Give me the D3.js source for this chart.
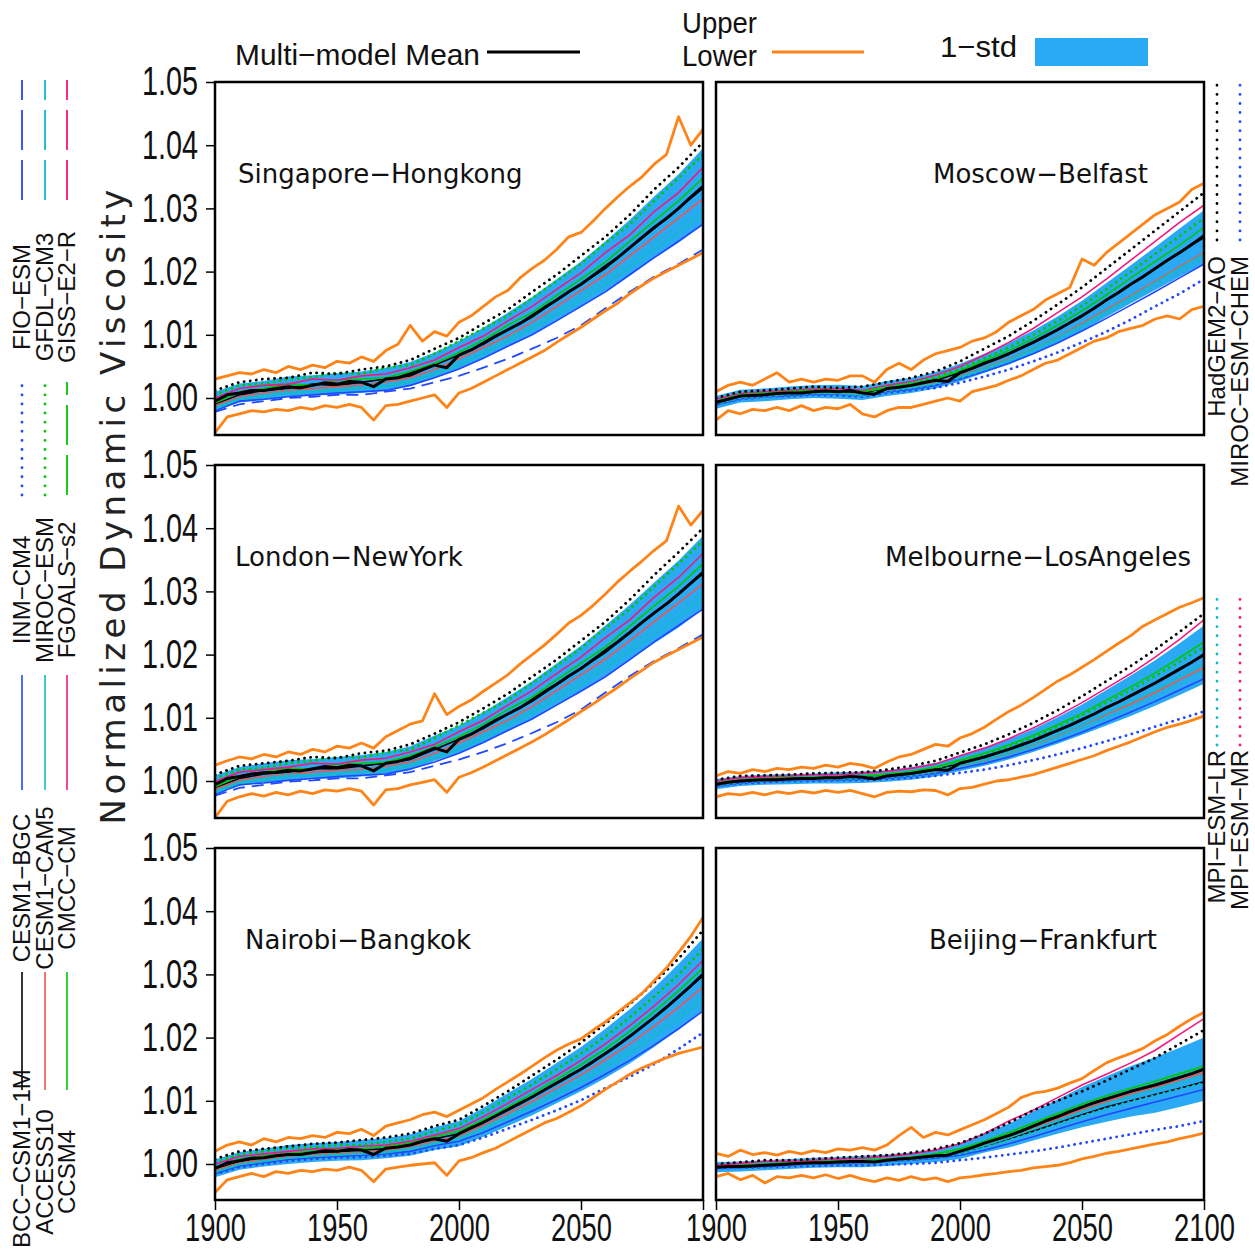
<!DOCTYPE html>
<html>
<head>
<meta charset="utf-8">
<script src="https://cdn.jsdelivr.net/npm/d3@7"></script>
<style>
  body { margin: 0; background: #fff; }
  svg { display: block; }
</style>
</head>
<body>
<div id="chart"></div>
<script>
/* Normalized dynamic viscosity, 6 city pairs, CMIP5 models 1900-2100 */

const YEARS_5 = [1900,1905,1910,1915,1920,1925,1930,1935,1940,1945,1950,1955,1960,1965,1970,1975,1980,1985,1990,1995,
                 2000,2005,2010,2015,2020,2025,2030,2035,2040,2045,2050,2055,2060,2065,2070,2075,2080,2085,2090,2095,2100];
const YEARS_10 = [1900,1910,1920,1930,1940,1950,1960,1970,1980,1990,2000,2010,2020,2030,2040,2050,2060,2070,2080,2090,2100];
const Y_TICKS = [1.00, 1.01, 1.02, 1.03, 1.04, 1.05];
const X_TICKS = [1900, 1950, 2000, 2050, 2100];

// model legend: id, label, colour, line type
const MODELS = [
  ["bcc",    "BCC−CSM1−1M",    "#000000", "solid"],
  ["access", "ACCESS10",       "#f2554c", "solid"],
  ["ccsm4",  "CCSM4",          "#00c800", "solid"],
  ["bgc",    "CESM1−BGC",      "#2048ff", "solid"],
  ["cam5",   "CESM1−CAM5",     "#10bcc4", "solid"],
  ["cmcc",   "CMCC−CM",        "#f5167f", "solid"],
  ["inm",    "INM−CM4",        "#2048ff", "dot"],
  ["miroc",  "MIROC−ESM",      "#00c800", "dot"],
  ["fgoals", "FGOALS−s2",      "#00c800", "dash"],
  ["fio",    "FIO−ESM",        "#2048ff", "dash"],
  ["gfdl",   "GFDL−CM3",       "#10bcc4", "dash"],
  ["giss",   "GISS−E2−R",      "#f5167f", "dash"],
  ["hadgem", "HadGEM2−AO",     "#000000", "dot"],
  ["chem",   "MIROC−ESM−CHEM", "#2048ff", "dot"],
  ["mpilr",  "MPI−ESM−LR",     "#10bcc4", "dot"],
  ["mpimr",  "MPI−ESM−MR",     "#f5167f", "dot"]
];

// ---- Singapore-Hongkong ----
const SH_MEAN  = [0.9995,1.0005,1.0008,1.0012,1.0012, 1.0015,1.0018,1.0016,1.0020,1.0024, 1.0022,1.0026,1.0025,1.0018,1.0030,
                  1.0032,1.0038,1.0045,1.0052,1.0048, 1.0068,1.0076,1.0087,1.0098,1.0108, 1.0118,1.0130,1.0143,1.0155,1.0168,
                  1.0180,1.0194,1.0208,1.0222,1.0238, 1.0254,1.0270,1.0284,1.0300,1.0318, 1.0335];
const SH_UPPER = [1.0030,1.0035,1.0040,1.0038,1.0045, 1.0040,1.0050,1.0045,1.0052,1.0048, 1.0058,1.0055,1.0065,1.0058,1.0075,
                  1.0085,1.0115,1.0090,1.0105,1.0098, 1.0120,1.0130,1.0145,1.0160,1.0170, 1.0190,1.0205,1.0218,1.0235,1.0255,
                  1.0262,1.0280,1.0300,1.0318,1.0335, 1.0350,1.0370,1.0385,1.0445,1.0400, 1.0425];
const SH_LOWER = [0.9945,0.9970,0.9975,0.9980,0.9978, 0.9982,0.9980,0.9985,0.9982,0.9988, 0.9985,0.9990,0.9985,0.9965,0.9988,
                  0.9990,0.9995,1.0000,1.0005,0.9985, 1.0008,1.0015,1.0025,1.0035,1.0045, 1.0055,1.0065,1.0075,1.0088,1.0100,
                  1.0112,1.0125,1.0138,1.0150,1.0165, 1.0178,1.0190,1.0200,1.0210,1.0220, 1.0230];
const SH_STD   = [0.0015,0.0015,0.0015,0.0016,0.0016,0.0017,0.0017,0.0018,0.0019,0.0020,0.0022,
                  0.0024,0.0027,0.0030,0.0033,0.0036,0.0040,0.0044,0.0049,0.0054,0.0060];
const SH_MODELS = {
  hadgem: [1.0012,1.0025,1.0030,1.0032,1.0040,1.0038,1.0045,1.0050,1.0060,1.0078,1.0095,1.0118,1.0140,1.0168,1.0195,1.0225,1.0255,1.0290,1.0330,1.0365,1.0405],
  miroc:  [1.0005,1.0020,1.0022,1.0030,1.0033,1.0040,1.0038,1.0048,1.0052,1.0070,1.0090,1.0110,1.0130,1.0158,1.0185,1.0212,1.0245,1.0275,1.0312,1.0348,1.0385],
  cmcc:   [1.0000,1.0015,1.0020,1.0022,1.0030,1.0028,1.0035,1.0038,1.0048,1.0060,1.0080,1.0098,1.0122,1.0145,1.0172,1.0198,1.0230,1.0258,1.0295,1.0325,1.0365],
  ccsm4:  [0.9992,1.0010,1.0015,1.0022,1.0020,1.0028,1.0030,1.0032,1.0042,1.0055,1.0072,1.0092,1.0115,1.0135,1.0162,1.0188,1.0215,1.0248,1.0280,1.0312,1.0348],
  bcc:    [0.9990,1.0005,1.0012,1.0015,1.0022,1.0020,1.0025,1.0030,1.0035,1.0052,1.0068,1.0085,1.0108,1.0128,1.0155,1.0180,1.0205,1.0238,1.0268,1.0300,1.0332],
  access: [0.9988,1.0002,1.0008,1.0012,1.0015,1.0018,1.0020,1.0025,1.0032,1.0045,1.0062,1.0080,1.0098,1.0120,1.0145,1.0170,1.0195,1.0225,1.0255,1.0285,1.0315],
  mpilr:  [0.9985,1.0000,1.0005,1.0012,1.0010,1.0015,1.0018,1.0022,1.0028,1.0042,1.0058,1.0075,1.0095,1.0115,1.0138,1.0162,1.0188,1.0215,1.0245,1.0272,1.0300],
  cam5:   [0.9982,0.9998,1.0002,1.0008,1.0010,1.0012,1.0015,1.0018,1.0025,1.0038,1.0052,1.0070,1.0090,1.0110,1.0132,1.0155,1.0180,1.0208,1.0235,1.0262,1.0290],
  bgc:    [0.9980,0.9995,0.9998,1.0002,1.0005,1.0008,1.0010,1.0012,1.0020,1.0032,1.0046,1.0063,1.0082,1.0100,1.0122,1.0145,1.0168,1.0195,1.0222,1.0248,1.0275],
  fio:    [0.9978,0.9990,0.9995,1.0000,1.0002,1.0005,1.0005,1.0010,1.0015,1.0025,1.0035,1.0048,1.0062,1.0078,1.0095,1.0115,1.0142,1.0168,1.0192,1.0212,1.0235]
};

// ---- Moscow-Belfast ----
const MB_MEAN  = [0.9993,0.9998,1.0003,1.0004,1.0005, 1.0007,1.0008,1.0008,1.0010,1.0011, 1.0010,1.0012,1.0008,1.0006,1.0015,
                  1.0017,1.0020,1.0024,1.0028,1.0026, 1.0040,1.0047,1.0055,1.0062,1.0070, 1.0079,1.0088,1.0098,1.0108,1.0119,
                  1.0130,1.0142,1.0155,1.0167,1.0180, 1.0192,1.0205,1.0218,1.0230,1.0243, 1.0255];
const MB_UPPER = [1.0010,1.0020,1.0025,1.0020,1.0030, 1.0040,1.0025,1.0030,1.0025,1.0030, 1.0028,1.0035,1.0035,1.0025,1.0045,
                  1.0055,1.0045,1.0060,1.0070,1.0075, 1.0080,1.0090,1.0095,1.0105,1.0120, 1.0130,1.0140,1.0155,1.0165,1.0175,
                  1.0220,1.0210,1.0230,1.0245,1.0260, 1.0275,1.0290,1.0300,1.0310,1.0330, 1.0340];
const MB_LOWER = [0.9965,0.9980,0.9975,0.9982,0.9980, 0.9985,0.9980,0.9988,0.9980,0.9985, 0.9983,0.9990,0.9975,0.9970,0.9980,
                  0.9985,0.9985,0.9990,0.9995,1.0000, 0.9995,1.0010,1.0015,1.0020,1.0028, 1.0035,1.0045,1.0055,1.0060,1.0070,
                  1.0080,1.0090,1.0095,1.0105,1.0110, 1.0115,1.0125,1.0130,1.0125,1.0140, 1.0145];
const MB_STD   = [0.0010,0.0010,0.0010,0.0010,0.0010,0.0011,0.0011,0.0012,0.0012,0.0013,0.0014,
                  0.0015,0.0017,0.0019,0.0021,0.0024,0.0027,0.0030,0.0034,0.0038,0.0042];
const MB_MODELS = {
  hadgem: [1.0000,1.0010,1.0012,1.0015,1.0018,1.0016,1.0018,1.0025,1.0032,1.0042,1.0058,1.0078,1.0098,1.0122,1.0148,1.0175,1.0205,1.0235,1.0265,1.0295,1.0325],
  cmcc:   [0.9998,1.0007,1.0010,1.0012,1.0014,1.0015,1.0012,1.0020,1.0026,1.0036,1.0050,1.0068,1.0088,1.0110,1.0135,1.0160,1.0188,1.0218,1.0248,1.0278,1.0305],
  miroc:  [0.9995,1.0006,1.0008,1.0011,1.0013,1.0012,1.0011,1.0018,1.0024,1.0033,1.0046,1.0063,1.0080,1.0100,1.0122,1.0146,1.0172,1.0200,1.0228,1.0256,1.0285],
  ccsm4:  [0.9994,1.0004,1.0007,1.0009,1.0012,1.0011,1.0010,1.0016,1.0022,1.0030,1.0043,1.0059,1.0075,1.0094,1.0115,1.0138,1.0163,1.0190,1.0216,1.0242,1.0270],
  bcc:    [0.9992,1.0003,1.0004,1.0008,1.0010,1.0009,1.0008,1.0014,1.0020,1.0028,1.0040,1.0055,1.0070,1.0088,1.0108,1.0130,1.0155,1.0180,1.0205,1.0230,1.0258],
  access: [0.9990,1.0000,1.0003,1.0005,1.0008,1.0008,1.0006,1.0012,1.0017,1.0024,1.0035,1.0048,1.0062,1.0078,1.0097,1.0118,1.0140,1.0162,1.0185,1.0208,1.0230],
  cam5:   [0.9991,1.0001,1.0004,1.0006,1.0008,1.0007,1.0005,1.0013,1.0016,1.0023,1.0034,1.0047,1.0061,1.0078,1.0096,1.0116,1.0138,1.0160,1.0183,1.0206,1.0228],
  mpilr:  [0.9990,1.0000,1.0002,1.0006,1.0007,1.0008,1.0004,1.0011,1.0016,1.0022,1.0032,1.0045,1.0058,1.0074,1.0092,1.0112,1.0133,1.0155,1.0178,1.0200,1.0222],
  bgc:    [0.9989,0.9999,1.0002,1.0004,1.0006,1.0006,1.0004,1.0010,1.0014,1.0020,1.0030,1.0042,1.0055,1.0070,1.0087,1.0106,1.0126,1.0147,1.0168,1.0190,1.0212],
  chem:   [0.9990,0.9998,1.0002,1.0003,1.0005,1.0004,1.0002,1.0008,1.0012,1.0016,1.0024,1.0034,1.0045,1.0058,1.0072,1.0088,1.0105,1.0124,1.0145,1.0165,1.0188]
};

// ---- London-NewYork ----
const LN_MEAN  = [0.9994,1.0004,1.0007,1.0011,1.0013, 1.0014,1.0017,1.0016,1.0019,1.0023, 1.0021,1.0025,1.0024,1.0016,1.0028,
                  1.0031,1.0036,1.0044,1.0052,1.0046, 1.0066,1.0074,1.0085,1.0096,1.0106, 1.0116,1.0128,1.0141,1.0153,1.0166,
                  1.0178,1.0192,1.0206,1.0220,1.0235, 1.0251,1.0266,1.0280,1.0296,1.0313, 1.0330];
const LN_UPPER = [1.0025,1.0032,1.0038,1.0035,1.0042, 1.0038,1.0046,1.0042,1.0050,1.0046, 1.0055,1.0052,1.0060,1.0052,1.0070,
                  1.0080,1.0090,1.0095,1.0138,1.0105, 1.0118,1.0128,1.0142,1.0155,1.0168, 1.0185,1.0200,1.0215,1.0232,1.0250,
                  1.0262,1.0278,1.0296,1.0315,1.0332, 1.0348,1.0365,1.0380,1.0435,1.0405, 1.0428];
const LN_LOWER = [0.9942,0.9968,0.9975,0.9980,0.9976, 0.9982,0.9978,0.9984,0.9980,0.9986, 0.9984,0.9988,0.9984,0.9962,0.9986,
                  0.9988,0.9994,0.9998,1.0002,0.9982, 1.0006,1.0013,1.0022,1.0032,1.0042, 1.0052,1.0062,1.0073,1.0085,1.0097,
                  1.0110,1.0122,1.0135,1.0148,1.0162, 1.0175,1.0188,1.0198,1.0208,1.0218, 1.0228];
const LN_STD   = [0.0015,0.0015,0.0015,0.0016,0.0016,0.0017,0.0017,0.0018,0.0019,0.0020,0.0022,
                  0.0024,0.0027,0.0030,0.0033,0.0036,0.0040,0.0044,0.0048,0.0053,0.0058];
const LN_MODELS = {
  hadgem: [1.0010,1.0024,1.0028,1.0032,1.0038,1.0036,1.0044,1.0048,1.0058,1.0075,1.0093,1.0115,1.0138,1.0165,1.0192,1.0222,1.0252,1.0287,1.0326,1.0362,1.0400],
  miroc:  [1.0004,1.0018,1.0021,1.0028,1.0032,1.0038,1.0037,1.0045,1.0050,1.0068,1.0088,1.0108,1.0128,1.0155,1.0182,1.0210,1.0242,1.0272,1.0308,1.0344,1.0380],
  cmcc:   [0.9999,1.0014,1.0018,1.0022,1.0028,1.0027,1.0033,1.0036,1.0046,1.0058,1.0078,1.0096,1.0120,1.0143,1.0170,1.0196,1.0227,1.0255,1.0291,1.0322,1.0360],
  ccsm4:  [0.9991,1.0008,1.0014,1.0020,1.0019,1.0026,1.0028,1.0030,1.0040,1.0054,1.0070,1.0090,1.0113,1.0133,1.0160,1.0186,1.0212,1.0245,1.0277,1.0308,1.0344],
  bcc:    [0.9989,1.0004,1.0011,1.0014,1.0020,1.0019,1.0024,1.0028,1.0034,1.0050,1.0066,1.0083,1.0106,1.0126,1.0152,1.0178,1.0203,1.0235,1.0265,1.0297,1.0328],
  access: [0.9987,1.0001,1.0007,1.0011,1.0014,1.0017,1.0018,1.0023,1.0030,1.0044,1.0060,1.0078,1.0096,1.0118,1.0143,1.0168,1.0193,1.0222,1.0252,1.0282,1.0312],
  mpilr:  [0.9984,0.9999,1.0004,1.0011,1.0009,1.0014,1.0016,1.0020,1.0027,1.0040,1.0056,1.0073,1.0093,1.0113,1.0136,1.0160,1.0185,1.0212,1.0242,1.0270,1.0298],
  cam5:   [0.9981,0.9997,1.0001,1.0007,1.0009,1.0011,1.0014,1.0017,1.0024,1.0036,1.0050,1.0068,1.0088,1.0108,1.0130,1.0153,1.0178,1.0205,1.0232,1.0260,1.0288],
  bgc:    [0.9979,0.9994,0.9997,1.0001,1.0004,1.0007,1.0009,1.0011,1.0019,1.0030,1.0044,1.0061,1.0080,1.0098,1.0120,1.0142,1.0165,1.0192,1.0220,1.0246,1.0272],
  fio:    [0.9977,0.9989,0.9994,0.9999,1.0001,1.0004,1.0004,1.0009,1.0014,1.0024,1.0034,1.0046,1.0060,1.0076,1.0093,1.0113,1.0140,1.0166,1.0190,1.0210,1.0232]
};

// ---- Melbourne-LosAngeles ----
const ML_MEAN  = [0.9995,0.9998,1.0000,1.0001,1.0002, 1.0002,1.0003,1.0004,1.0004,1.0005, 1.0005,1.0007,1.0006,1.0003,1.0008,
                  1.0010,1.0012,1.0015,1.0018,1.0017, 1.0028,1.0033,1.0038,1.0044,1.0050, 1.0057,1.0064,1.0072,1.0080,1.0088,
                  1.0097,1.0106,1.0116,1.0125,1.0135, 1.0145,1.0155,1.0166,1.0177,1.0188, 1.0200];
const ML_UPPER = [1.0008,1.0015,1.0012,1.0018,1.0015, 1.0020,1.0018,1.0022,1.0020,1.0025, 1.0022,1.0028,1.0025,1.0020,1.0030,
                  1.0038,1.0042,1.0050,1.0058,1.0055, 1.0068,1.0075,1.0085,1.0098,1.0110, 1.0120,1.0132,1.0145,1.0158,1.0168,
                  1.0180,1.0192,1.0205,1.0218,1.0230, 1.0245,1.0255,1.0265,1.0275,1.0282, 1.0290];
const ML_LOWER = [0.9975,0.9980,0.9978,0.9982,0.9978, 0.9983,0.9980,0.9984,0.9981,0.9985, 0.9982,0.9985,0.9980,0.9975,0.9982,
                  0.9984,0.9983,0.9986,0.9985,0.9978, 0.9988,0.9990,0.9995,1.0000,1.0002, 1.0006,1.0010,1.0016,1.0022,1.0028,
                  1.0034,1.0040,1.0048,1.0055,1.0062, 1.0070,1.0078,1.0085,1.0090,1.0096, 1.0103];
const ML_STD   = [0.0008,0.0008,0.0008,0.0008,0.0008,0.0009,0.0009,0.0009,0.0010,0.0011,0.0012,
                  0.0014,0.0016,0.0018,0.0021,0.0024,0.0028,0.0032,0.0036,0.0041,0.0046];
const ML_MODELS = {
  hadgem: [1.0002,1.0008,1.0009,1.0010,1.0012,1.0013,1.0014,1.0018,1.0024,1.0032,1.0045,1.0058,1.0074,1.0092,1.0112,1.0134,1.0158,1.0182,1.0208,1.0236,1.0265],
  cmcc:   [1.0000,1.0005,1.0007,1.0008,1.0010,1.0010,1.0012,1.0015,1.0020,1.0027,1.0040,1.0052,1.0067,1.0084,1.0103,1.0124,1.0147,1.0170,1.0196,1.0224,1.0255],
  ccsm4:  [0.9997,1.0002,1.0004,1.0005,1.0006,1.0007,1.0008,1.0011,1.0015,1.0022,1.0033,1.0044,1.0057,1.0072,1.0089,1.0107,1.0128,1.0149,1.0171,1.0195,1.0220],
  miroc:  [0.9996,1.0001,1.0003,1.0005,1.0005,1.0006,1.0007,1.0010,1.0014,1.0020,1.0031,1.0042,1.0055,1.0069,1.0086,1.0104,1.0124,1.0144,1.0166,1.0189,1.0212],
  bcc:    [0.9994,1.0000,1.0002,1.0003,1.0004,1.0005,1.0006,1.0008,1.0012,1.0018,1.0028,1.0038,1.0050,1.0064,1.0080,1.0097,1.0116,1.0135,1.0155,1.0177,1.0200],
  access: [0.9993,0.9998,1.0000,1.0002,1.0003,1.0004,1.0004,1.0006,1.0010,1.0015,1.0024,1.0033,1.0044,1.0057,1.0072,1.0088,1.0105,1.0122,1.0140,1.0160,1.0180],
  cam5:   [0.9994,0.9999,1.0001,1.0002,1.0003,1.0004,1.0005,1.0007,1.0010,1.0016,1.0025,1.0034,1.0045,1.0058,1.0073,1.0089,1.0107,1.0125,1.0144,1.0165,1.0186],
  mpilr:  [0.9993,0.9998,1.0001,1.0002,1.0003,1.0003,1.0004,1.0006,1.0009,1.0014,1.0023,1.0032,1.0042,1.0054,1.0068,1.0083,1.0100,1.0117,1.0136,1.0155,1.0175],
  bgc:    [0.9992,0.9997,1.0000,1.0001,1.0002,1.0002,1.0003,1.0005,1.0008,1.0012,1.0020,1.0028,1.0038,1.0050,1.0063,1.0077,1.0093,1.0109,1.0126,1.0144,1.0162],
  chem:   [0.9992,0.9996,0.9998,1.0000,1.0000,1.0001,1.0001,1.0003,1.0005,1.0008,1.0013,1.0018,1.0025,1.0033,1.0042,1.0052,1.0063,1.0074,1.0086,1.0098,1.0110]
};

// ---- Nairobi-Bangkok ----
const NB_MEAN  = [0.9993,1.0002,1.0005,1.0009,1.0010, 1.0013,1.0015,1.0015,1.0018,1.0021, 1.0020,1.0023,1.0022,1.0015,1.0025,
                  1.0027,1.0030,1.0036,1.0040,1.0036, 1.0048,1.0057,1.0066,1.0076,1.0086, 1.0096,1.0106,1.0117,1.0128,1.0139,
                  1.0150,1.0162,1.0175,1.0188,1.0202, 1.0217,1.0232,1.0248,1.0265,1.0282, 1.0300];
const NB_UPPER = [1.0020,1.0030,1.0035,1.0030,1.0040, 1.0035,1.0042,1.0040,1.0045,1.0042, 1.0050,1.0048,1.0055,1.0045,1.0060,
                  1.0065,1.0070,1.0078,1.0082,1.0075, 1.0085,1.0095,1.0105,1.0118,1.0130, 1.0142,1.0155,1.0168,1.0180,1.0190,
                  1.0198,1.0212,1.0225,1.0240,1.0255, 1.0270,1.0290,1.0310,1.0335,1.0360, 1.0390];
const NB_LOWER = [0.9955,0.9975,0.9980,0.9985,0.9980, 0.9988,0.9985,0.9990,0.9988,0.9992, 0.9990,0.9995,0.9990,0.9972,0.9992,
                  0.9995,0.9998,1.0000,1.0002,0.9982, 1.0005,1.0010,1.0018,1.0025,1.0035, 1.0045,1.0055,1.0065,1.0072,1.0082,
                  1.0092,1.0105,1.0118,1.0130,1.0142, 1.0152,1.0160,1.0168,1.0175,1.0180, 1.0185];
const NB_STD   = [0.0014,0.0014,0.0014,0.0015,0.0015,0.0015,0.0016,0.0016,0.0017,0.0018,0.0020,
                  0.0023,0.0026,0.0029,0.0032,0.0035,0.0039,0.0043,0.0047,0.0052,0.0057];
const NB_MODELS = {
  hadgem: [1.0008,1.0020,1.0024,1.0028,1.0032,1.0034,1.0038,1.0042,1.0048,1.0060,1.0070,1.0092,1.0115,1.0140,1.0165,1.0192,1.0222,1.0253,1.0287,1.0325,1.0370],
  miroc:  [1.0003,1.0015,1.0020,1.0025,1.0026,1.0030,1.0030,1.0035,1.0040,1.0052,1.0062,1.0082,1.0104,1.0126,1.0150,1.0175,1.0202,1.0232,1.0265,1.0300,1.0340],
  cmcc:   [1.0000,1.0012,1.0016,1.0020,1.0024,1.0025,1.0028,1.0030,1.0036,1.0046,1.0056,1.0075,1.0096,1.0118,1.0140,1.0164,1.0190,1.0219,1.0250,1.0284,1.0322],
  ccsm4:  [0.9995,1.0008,1.0013,1.0017,1.0020,1.0023,1.0024,1.0028,1.0033,1.0043,1.0052,1.0070,1.0090,1.0111,1.0134,1.0157,1.0182,1.0210,1.0241,1.0274,1.0310],
  bcc:    [0.9992,1.0004,1.0010,1.0014,1.0018,1.0019,1.0022,1.0024,1.0030,1.0040,1.0048,1.0066,1.0086,1.0106,1.0128,1.0150,1.0175,1.0202,1.0232,1.0264,1.0298],
  access: [0.9990,1.0002,1.0007,1.0012,1.0015,1.0017,1.0019,1.0022,1.0027,1.0036,1.0044,1.0061,1.0080,1.0099,1.0120,1.0141,1.0165,1.0190,1.0218,1.0248,1.0280],
  mpilr:  [0.9988,1.0000,1.0006,1.0011,1.0013,1.0016,1.0017,1.0020,1.0025,1.0034,1.0042,1.0058,1.0076,1.0095,1.0115,1.0136,1.0158,1.0182,1.0209,1.0238,1.0268],
  cam5:   [0.9987,0.9999,1.0004,1.0009,1.0012,1.0014,1.0016,1.0018,1.0023,1.0032,1.0040,1.0055,1.0073,1.0091,1.0110,1.0130,1.0152,1.0176,1.0202,1.0230,1.0260],
  bgc:    [0.9985,0.9997,1.0002,1.0007,1.0010,1.0012,1.0014,1.0016,1.0020,1.0029,1.0036,1.0050,1.0067,1.0084,1.0102,1.0121,1.0142,1.0164,1.0188,1.0214,1.0242],
  chem:   [0.9984,0.9995,1.0000,1.0005,1.0008,1.0010,1.0011,1.0013,1.0016,1.0024,1.0030,1.0042,1.0056,1.0070,1.0085,1.0101,1.0120,1.0138,1.0158,1.0182,1.0208]
};

// ---- Beijing-Frankfurt ----
const BF_MEAN  = [0.9995,0.9996,0.9996,0.9997,0.9998, 0.9999,1.0000,1.0001,1.0002,1.0002, 1.0003,1.0004,1.0004,1.0003,1.0006,
                  1.0008,1.0009,1.0011,1.0013,1.0014, 1.0020,1.0026,1.0033,1.0039,1.0045, 1.0052,1.0060,1.0068,1.0075,1.0083,
                  1.0090,1.0097,1.0103,1.0109,1.0115, 1.0120,1.0125,1.0131,1.0137,1.0143, 1.0150];
const BF_UPPER = [1.0017,1.0012,1.0022,1.0015,1.0018, 1.0014,1.0020,1.0016,1.0021,1.0018, 1.0024,1.0022,1.0026,1.0022,1.0030,
                  1.0045,1.0058,1.0042,1.0050,1.0046, 1.0054,1.0062,1.0070,1.0080,1.0090, 1.0105,1.0112,1.0115,1.0120,1.0128,
                  1.0135,1.0148,1.0160,1.0168,1.0175, 1.0183,1.0195,1.0205,1.0218,1.0230, 1.0240];
const BF_LOWER = [0.9980,0.9985,0.9975,0.9982,0.9970, 0.9980,0.9978,0.9982,0.9978,0.9983, 0.9977,0.9982,0.9976,0.9972,0.9978,
                  0.9974,0.9980,0.9975,0.9978,0.9972, 0.9978,0.9980,0.9983,0.9985,0.9988, 0.9990,0.9994,0.9996,0.9998,1.0002,
                  1.0008,1.0012,1.0017,1.0020,1.0024, 1.0028,1.0032,1.0035,1.0040,1.0044, 1.0049];
const BF_STD   = [0.0008,0.0008,0.0008,0.0008,0.0008,0.0008,0.0009,0.0009,0.0009,0.0010,0.0012,
                  0.0015,0.0019,0.0023,0.0027,0.0032,0.0036,0.0040,0.0044,0.0047,0.0050];
const BF_MODELS = {
  hadgem: [1.0000,1.0003,1.0006,1.0006,1.0008,1.0010,1.0012,1.0014,1.0018,1.0024,1.0033,1.0048,1.0065,1.0085,1.0100,1.0115,1.0132,1.0150,1.0168,1.0190,1.0212],
  cmcc:   [0.9998,1.0001,1.0004,1.0004,1.0006,1.0008,1.0009,1.0012,1.0016,1.0022,1.0032,1.0048,1.0068,1.0085,1.0105,1.0125,1.0142,1.0160,1.0180,1.0205,1.0230],
  ccsm4:  [0.9996,0.9998,1.0000,1.0002,1.0003,1.0005,1.0006,1.0008,1.0011,1.0016,1.0024,1.0036,1.0050,1.0065,1.0080,1.0095,1.0108,1.0120,1.0131,1.0143,1.0155],
  miroc:  [0.9995,0.9997,0.9999,1.0001,1.0003,1.0004,1.0005,1.0007,1.0010,1.0014,1.0022,1.0034,1.0047,1.0062,1.0077,1.0091,1.0104,1.0116,1.0127,1.0139,1.0150],
  bcc:    [0.9994,0.9996,0.9998,1.0000,1.0002,1.0003,1.0004,1.0006,1.0009,1.0012,1.0018,1.0028,1.0040,1.0052,1.0065,1.0078,1.0090,1.0100,1.0110,1.0120,1.0130],
  access: [0.9994,0.9995,0.9997,0.9999,1.0001,1.0002,1.0003,1.0005,1.0008,1.0012,1.0019,1.0030,1.0043,1.0057,1.0072,1.0086,1.0099,1.0111,1.0122,1.0133,1.0145],
  cam5:   [0.9995,0.9996,0.9998,1.0000,1.0001,1.0003,1.0004,1.0005,1.0008,1.0012,1.0018,1.0029,1.0041,1.0055,1.0069,1.0083,1.0096,1.0107,1.0118,1.0129,1.0140],
  mpilr:  [0.9994,0.9995,0.9997,0.9999,1.0001,1.0002,1.0003,1.0005,1.0007,1.0011,1.0016,1.0026,1.0037,1.0050,1.0063,1.0076,1.0088,1.0099,1.0109,1.0119,1.0128],
  bgc:    [0.9993,0.9994,0.9996,0.9998,1.0000,1.0001,1.0002,1.0004,1.0006,1.0009,1.0014,1.0022,1.0032,1.0043,1.0055,1.0067,1.0078,1.0088,1.0098,1.0108,1.0118],
  chem:   [0.9993,0.9994,0.9995,0.9996,0.9997,0.9998,0.9998,0.9999,1.0000,1.0002,1.0006,1.0010,1.0015,1.0020,1.0026,1.0033,1.0040,1.0047,1.0054,1.0060,1.0068]
};

const PANELS = [
  {id: "sh", title: "Singapore−Hongkong",   col: 0, row: 0, tx: 238,  anchor: "start", mean: SH_MEAN, upper: SH_UPPER, lower: SH_LOWER, std: SH_STD, models: SH_MODELS},
  {id: "mb", title: "Moscow−Belfast",       col: 1, row: 0, tx: 1148, anchor: "end",   mean: MB_MEAN, upper: MB_UPPER, lower: MB_LOWER, std: MB_STD, models: MB_MODELS},
  {id: "ln", title: "London−NewYork",       col: 0, row: 1, tx: 235,  anchor: "start", mean: LN_MEAN, upper: LN_UPPER, lower: LN_LOWER, std: LN_STD, models: LN_MODELS},
  {id: "ml", title: "Melbourne−LosAngeles", col: 1, row: 1, tx: 1191, anchor: "end",   mean: ML_MEAN, upper: ML_UPPER, lower: ML_LOWER, std: ML_STD, models: ML_MODELS},
  {id: "nb", title: "Nairobi−Bangkok",      col: 0, row: 2, tx: 245,  anchor: "start", mean: NB_MEAN, upper: NB_UPPER, lower: NB_LOWER, std: NB_STD, models: NB_MODELS},
  {id: "bf", title: "Beijing−Frankfurt",    col: 1, row: 2, tx: 1157, anchor: "end",   mean: BF_MEAN, upper: BF_UPPER, lower: BF_LOWER, std: BF_STD, models: BF_MODELS}
];

const width = 1255, height = 1253;
const COLS = [{x0: 215, x1: 703}, {x0: 716, x1: 1204}];
const ROWS = [{y0: 82, y1: 435}, {y0: 465, y1: 818}, {y0: 848, y1: 1200}];
const ORANGE = "#ff8418", STD_BLUE = "#2aa9f5";
const NUM_FONT = "'Liberation Sans', Arial, sans-serif";

const svg = d3.select("#chart")
    .append("svg")
    .attr("width", width)
    .attr("height", height);

const styleOf = {};
MODELS.forEach(m => styleOf[m[0]] = {label: m[1], color: m[2], type: m[3]});

// line look; the side legend uses longer dashes than the plots
function strokeStyle(sel, st, legend) {
    sel.attr("stroke", st.color).attr("fill", "none");
    if (st.type === "dot") {
        sel.attr("stroke-width", 2.8).attr("stroke-linecap", "round")
           .attr("stroke-dasharray", legend ? "0.1 9" : "0.1 6");
    } else if (st.type === "dash") {
        sel.attr("stroke-width", 1.8).attr("stroke-dasharray", legend ? "40 10" : "12 7");
    } else {
        sel.attr("stroke-width", 1.6);
    }
    return sel;
}

PANELS.forEach(p => {
    const c = COLS[p.col], r = ROWS[p.row];
    const x = d3.scaleLinear().domain([1900, 2100]).range([c.x0, c.x1]);
    const y = d3.scaleLinear().domain([1.00, 1.05]).range([r.y0 + 316, r.y0]);

    svg.append("clipPath").attr("id", "clip-" + p.id)
        .append("rect")
        .attr("x", c.x0).attr("y", r.y0)
        .attr("width", c.x1 - c.x0).attr("height", r.y1 - r.y0);

    const plot = svg.append("g").attr("clip-path", `url(#clip-${p.id})`);
    const line = d3.line().x(d => x(d[0])).y(d => y(d[1]));

    // 1-std band around the mean
    const band = YEARS_10.map((yr, i) => [yr, p.mean[YEARS_5.indexOf(yr)] - p.std[i], p.mean[YEARS_5.indexOf(yr)] + p.std[i]]);
    plot.append("path")
        .datum(band)
        .attr("fill", STD_BLUE)
        .attr("d", d3.area().x(d => x(d[0])).y0(d => y(d[1])).y1(d => y(d[2])));

    // individual models
    MODELS.forEach(m => {
        const vals = p.models[m[0]];
        if (!vals) return;
        plot.append("path")
            .datum(d3.zip(YEARS_10, vals))
            .attr("d", line)
            .call(strokeStyle, styleOf[m[0]], false);
    });

    // envelope
    [p.upper, p.lower].forEach(vals => {
        plot.append("path")
            .datum(d3.zip(YEARS_5, vals))
            .attr("d", line)
            .attr("fill", "none")
            .attr("stroke", ORANGE)
            .attr("stroke-width", 2.8)
            .attr("stroke-linejoin", "round");
    });

    plot.append("path")
        .datum(d3.zip(YEARS_5, p.mean))
        .attr("d", line)
        .attr("fill", "none")
        .attr("stroke", "#000")
        .attr("stroke-width", 3)
        .attr("stroke-linejoin", "round");

    svg.append("rect")
        .attr("x", c.x0).attr("y", r.y0)
        .attr("width", c.x1 - c.x0).attr("height", r.y1 - r.y0)
        .attr("fill", "none")
        .attr("stroke", "#000")
        .attr("stroke-width", 2.5);

    svg.append("text")
        .attr("x", p.tx)
        .attr("y", r.y0 + 101)
        .attr("text-anchor", p.anchor)
        .style("font-family", "'DejaVu Sans', sans-serif")
        .style("font-size", "26px")
        .style("fill", "#111")
        .text(p.title);

    if (p.col === 0) {
        const yAxis = svg.append("g")
            .attr("transform", `translate(${c.x0},0)`)
            .call(d3.axisLeft(y).tickValues(Y_TICKS).tickFormat(d3.format(".2f")).tickSize(9).tickPadding(8));
        yAxis.select(".domain").remove();
        yAxis.selectAll("line").attr("stroke-width", 1.5);
        yAxis.selectAll("text")
            .style("font-family", NUM_FONT)
            .style("font-size", "40px")
            .attr("fill", "#111")
            .attr("textLength", 56)
            .attr("lengthAdjust", "spacingAndGlyphs");
    }

    if (p.row === 2) {
        const xAxis = svg.append("g")
            .attr("transform", `translate(0,${r.y1})`)
            .call(d3.axisBottom(x).tickValues(X_TICKS)
                .tickFormat(d => (p.col === 0 && d === 2100) ? "" : d)
                .tickSize(10).tickPadding(4));
        xAxis.select(".domain").remove();
        xAxis.selectAll("line").attr("stroke-width", 1.5);
        // narrow digits: squeeze horizontally around the tick
        xAxis.selectAll("text")
            .style("font-family", NUM_FONT)
            .style("font-size", "38px")
            .attr("fill", "#111")
            .attr("transform", "scale(0.72,1)");
    }
});

// y axis title
svg.append("text")
    .attr("transform", "translate(125,507) rotate(-90)")
    .attr("text-anchor", "middle")
    .attr("textLength", 635)
    .attr("lengthAdjust", "spacing")
    .style("font-family", "'DejaVu Sans', sans-serif")
    .style("font-size", "34px")
    .style("fill", "#222")
    .text("Normalized Dynamic Viscosity");

// top legend
const legFont = sel => sel.style("font-family", NUM_FONT).style("font-size", "30px").style("fill", "#111");
svg.append("text").attr("x", 235).attr("y", 65).attr("textLength", 245).attr("lengthAdjust", "spacingAndGlyphs")
    .call(legFont).text("Multi−model Mean");
svg.append("line").attr("x1", 487).attr("x2", 580).attr("y1", 52).attr("y2", 52)
    .attr("stroke", "#000").attr("stroke-width", 3);
svg.append("text").attr("x", 682).attr("y", 33).attr("textLength", 75).attr("lengthAdjust", "spacingAndGlyphs")
    .call(legFont).text("Upper");
svg.append("text").attr("x", 682).attr("y", 66).attr("textLength", 75).attr("lengthAdjust", "spacingAndGlyphs")
    .call(legFont).text("Lower");
svg.append("line").attr("x1", 772).attr("x2", 864).attr("y1", 52).attr("y2", 52)
    .attr("stroke", ORANGE).attr("stroke-width", 3);
svg.append("text").attr("x", 940).attr("y", 57).attr("textLength", 77).attr("lengthAdjust", "spacingAndGlyphs")
    .call(legFont).text("1−std");
svg.append("rect").attr("x", 1035).attr("y", 38).attr("width", 113).attr("height", 28).attr("fill", STD_BLUE);

// side legends (rotated)
const LEFT_LEGEND = [
    [0, 3, "bcc"], [0, 2, "bgc"], [0, 1, "inm"], [0, 0, "fio"],
    [1, 3, "access"], [1, 2, "cam5"], [1, 1, "miroc"], [1, 0, "gfdl"],
    [2, 3, "ccsm4"], [2, 2, "cmcc"], [2, 1, "fgoals"], [2, 0, "giss"]
];
const LEFT_COL_X = [22, 45, 67];
const LEFT_ROWS = [
    {top: 80, bot: 200, mid: 297},
    {top: 382, bot: 495, mid: 590},
    {top: 675, bot: 790, mid: 888},
    {top: 972, bot: 1090, mid: 1172}
];
const sideFont = sel => sel.style("font-family", NUM_FONT).style("font-size", "24px").style("fill", "#111");

LEFT_LEGEND.forEach(([ci, ri, id]) => {
    const st = styleOf[id], cx = LEFT_COL_X[ci], rw = LEFT_ROWS[ri];
    svg.append("line")
        .attr("x1", cx).attr("x2", cx).attr("y1", rw.bot).attr("y2", rw.top)
        .call(strokeStyle, st, true);
    const t = svg.append("text")
        .attr("transform", `translate(${cx + 8},${rw.mid}) rotate(-90)`)
        .attr("text-anchor", "middle")
        .call(sideFont)
        .text(st.label);
    const len = t.node().getComputedTextLength();
    if (rw.mid + len / 2 > 1248) {
        t.attr("transform", `translate(${cx + 8},${1248 - len / 2}) rotate(-90)`);
    }
});

const RIGHT_LEGEND = [[0, 0, "hadgem"], [1, 0, "chem"], [0, 1, "mpilr"], [1, 1, "mpimr"]];
const RIGHT_COL_X = [1217, 1240];
const RIGHT_ROWS = [{top: 80, bot: 240, end: 256}, {top: 595, bot: 745, end: 750}];

RIGHT_LEGEND.forEach(([ci, ri, id]) => {
    const st = styleOf[id], cx = RIGHT_COL_X[ci], rw = RIGHT_ROWS[ri];
    svg.append("line")
        .attr("x1", cx).attr("x2", cx).attr("y1", rw.bot).attr("y2", rw.top)
        .call(strokeStyle, st, true);
    svg.append("text")
        .attr("transform", `translate(${cx + 8},${rw.end}) rotate(-90)`)
        .attr("text-anchor", "end")
        .call(sideFont)
        .text(st.label);
});
</script>
</body>
</html>
